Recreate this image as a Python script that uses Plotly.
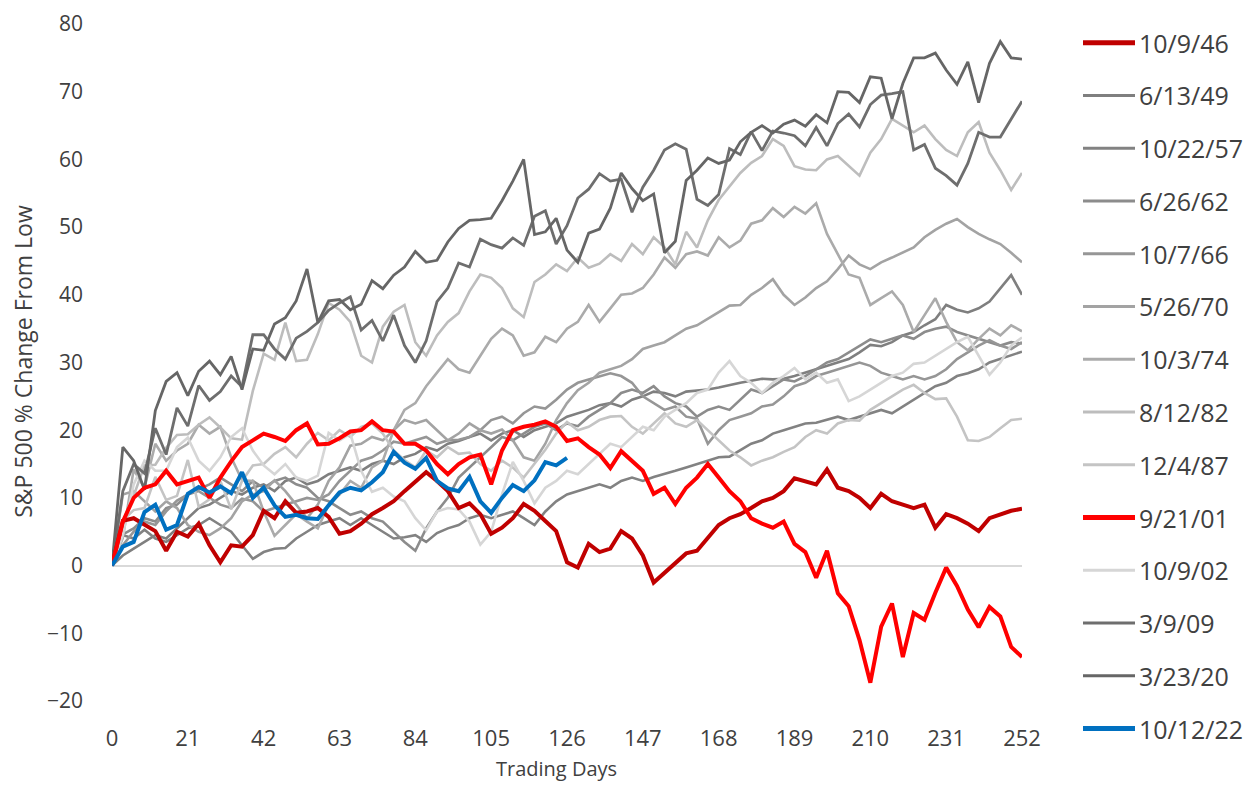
import plotly.graph_objects as go

# ---------------- data (every 3rd trading day) ----------------
days = list(range(0, 253, 3))

s_1946 = [0, 6.6, 7.0, 6.0, 5.1, 2.2, 5.0, 4.3, 6.2, 3.0, 0.5, 3.0, 2.8, 4.5, 8.1, 7.0, 9.5, 7.8, 8.0, 8.5,
          7.2, 4.7, 5.1, 6.2, 7.6, 8.5, 9.5, 11.0, 12.5, 13.8, 12.5, 11.0, 8.5, 9.2, 7.6, 4.7, 5.6, 7.0, 9.1, 8.1,
          6.6, 5.1, 0.5, -0.3, 3.2, 2.0, 2.5, 5.1, 4.0, 1.5, -2.5, -1.0, 0.5, 1.8, 2.2, 4.1, 6.0, 7.0, 7.6, 8.5,
          9.5, 10.0, 11.0, 12.9, 12.5, 12.0, 14.2, 11.5, 11.0, 10.0, 8.5, 10.6, 9.5, 9.0, 8.5, 9.0, 5.6, 7.6, 7.0, 6.2,
          5.1, 7.0, 7.6, 8.1, 8.4]

s_1949 = [0, 1.5, 2.5, 3.5, 4.5, 4.0, 5.5, 7.0, 8.5, 9.0, 10.0, 11.0, 10.5, 11.5, 12.0, 11.0, 12.5, 13.0, 12.0, 12.5,
          13.5, 14.0, 14.5, 14.0, 15.0, 15.5, 15.0, 16.0, 16.5, 17.5, 17.0, 18.0, 18.4, 19.0, 19.5, 18.5, 19.5, 20.0, 19.0, 20.0,
          20.5, 21.0, 22.0, 22.5, 23.0, 23.7, 24.0, 23.5, 24.5, 25.0, 25.7, 25.5, 25.0, 25.7, 25.8, 26.0, 26.3, 26.7, 27.0, 27.3,
          27.6, 27.5, 27.6, 28.0, 28.5, 29.0, 29.5, 30.0, 30.5, 31.5, 32.6, 32.4, 33.0, 34.0, 34.5, 35.5, 36.4, 38.5, 37.8, 37.4,
          38.0, 39.0, 41.0, 42.9, 40.0]

s_1957 = [0, 4.5, 4.0, 5.3, 4.0, 3.5, 4.5, 5.5, 6.0, 7.0, 6.0, 5.0, 3.0, 1.0, 2.0, 2.5, 2.6, 4.0, 5.0, 6.0,
          6.5, 7.0, 6.0, 7.0, 6.0, 5.0, 4.0, 4.2, 4.5, 3.5, 4.8, 5.5, 6.0, 7.0, 7.5, 7.0, 7.5, 8.0, 7.0, 6.0,
          8.0, 9.5, 10.5, 11.0, 11.4, 12.0, 11.5, 12.5, 13.0, 12.5, 13.1, 13.5, 14.0, 14.5, 15.0, 15.5, 16.0, 16.1, 17.0, 18.0,
          18.5, 19.5, 20.0, 20.5, 21.0, 21.1, 21.5, 22.0, 21.5, 22.0, 22.5, 23.0, 22.5, 23.5, 24.5, 25.5, 26.5, 27.0, 28.0, 28.4,
          29.0, 30.0, 30.5, 31.0, 31.6]

s_1962 = [0, 4.6, 5.5, 7.0, 6.5, 8.5, 9.0, 10.5, 11.3, 12.0, 13.0, 12.0, 11.0, 12.5, 11.5, 12.5, 13.0, 12.0, 11.5, 10.0,
          9.5, 8.5, 7.5, 8.0, 7.0, 6.5, 5.0, 3.5, 2.2, 5.5, 8.0, 10.0, 13.0, 14.5, 16.0, 17.5, 19.0, 18.5, 19.5, 20.5,
          21.0, 20.0, 21.0, 20.6, 22.0, 23.0, 24.0, 25.5, 26.0, 25.5, 26.5, 25.0, 24.0, 23.5, 22.0, 23.0, 23.5, 23.0, 24.5, 26.0,
          25.5, 26.5, 27.5, 27.2, 28.0, 29.0, 30.0, 30.5, 31.5, 32.5, 33.4, 33.0, 33.5, 34.0, 33.5, 34.5, 35.0, 35.3, 34.5, 34.0,
          33.5, 33.0, 32.5, 33.0, 32.8]

s_1966 = [0, 3.0, 5.0, 6.5, 6.0, 8.0, 9.6, 10.5, 11.0, 10.0, 9.0, 8.5, 9.9, 9.5, 8.0, 8.5, 9.0, 9.5, 10.0, 9.7,
          10.5, 12.5, 14.0, 15.5, 16.0, 17.0, 18.3, 18.0, 18.5, 19.0, 18.0, 18.5, 18.6, 19.0, 20.0, 21.5, 22.0, 21.0, 22.5, 23.5,
          23.2, 24.5, 26.0, 27.0, 27.5, 28.0, 28.4, 28.0, 27.0, 25.0, 24.0, 23.0, 23.5, 22.0, 21.7, 18.0, 20.0, 21.5, 22.0, 22.5,
          23.5, 23.8, 25.0, 26.5, 27.0, 28.0, 28.5, 29.0, 29.4, 30.0, 29.5, 28.5, 28.0, 27.5, 28.0, 27.5, 28.0, 29.0, 30.5, 31.5,
          32.5, 33.3, 32.5, 32.0, 33.0]

s_1970 = [0, 10.5, 11.0, 9.5, 8.0, 9.5, 8.5, 6.0, 5.0, 4.5, 5.5, 7.0, 9.5, 10.5, 11.0, 12.6, 11.0, 9.0, 7.0, 9.0,
          12.5, 14.5, 17.7, 18.0, 19.0, 18.5, 20.0, 21.5, 21.0, 21.5, 20.0, 18.5, 19.5, 21.0, 20.0, 19.5, 20.1, 18.5, 16.0, 15.5,
          18.0, 21.5, 24.0, 25.9, 27.0, 28.5, 29.0, 29.5, 30.5, 32.0, 32.5, 33.0, 34.0, 35.0, 35.5, 36.5, 37.5, 38.4, 38.5, 40.0,
          41.0, 42.3, 40.0, 38.5, 39.6, 41.0, 42.0, 43.8, 45.8, 44.5, 43.8, 44.8, 45.5, 46.2, 47.0, 48.5, 49.6, 50.5, 51.2, 50.0,
          49.0, 48.2, 47.5, 46.2, 44.8]

s_1974 = [0, 4.1, 14.2, 11.5, 18.0, 15.5, 17.0, 18.0, 20.8, 19.5, 20.5, 16.0, 12.6, 12.5, 8.0, 4.4, 6.0, 7.6, 6.5, 5.5,
          9.0, 10.5, 12.5, 11.5, 14.5, 15.5, 20.0, 23.0, 24.0, 26.5, 28.5, 30.5, 29.0, 28.5, 31.0, 33.5, 35.0, 34.0, 31.0, 31.5,
          33.8, 33.0, 35.0, 36.0, 38.5, 36.0, 38.0, 40.0, 40.2, 41.0, 43.0, 45.5, 44.0, 46.0, 46.4, 45.8, 48.5, 47.0, 48.0, 50.5,
          51.0, 52.8, 51.5, 53.0, 52.0, 53.5, 49.0, 46.0, 43.0, 42.5, 38.5, 39.5, 40.5, 38.5, 34.5, 37.0, 39.5, 36.0, 33.0, 31.8,
          33.5, 35.0, 34.0, 35.5, 34.6]

s_1982 = [0, 6.5, 10.3, 14.8, 14.9, 17.4, 19.3, 19.4, 20.8, 21.9, 20.4, 18.8, 18.6, 25.8, 31.3, 30.4, 35.9, 30.2, 30.4, 34.2,
          38.8, 37.8, 36.0, 31.0, 30.0, 35.3, 37.5, 38.5, 33.0, 31.0, 34.0, 36.0, 37.3, 40.5, 43.0, 42.5, 41.0, 38.0, 36.7, 41.9,
          43.0, 44.5, 43.5, 45.5, 44.0, 44.6, 46.0, 45.0, 47.5, 46.0, 48.5, 47.0, 44.5, 49.3, 47.0, 51.0, 54.0, 56.0, 58.0, 59.5,
          60.5, 63.0, 62.0, 59.0, 58.5, 58.4, 60.0, 60.5, 59.0, 57.6, 61.0, 63.0, 66.0, 65.0, 64.0, 65.0, 63.0, 61.4, 60.5, 64.0,
          65.5, 61.0, 58.4, 55.5, 58.0]

s_1987 = [0, 6.7, 8.2, 8.5, 13.1, 9.7, 10.3, 15.6, 8.7, 9.8, 12.5, 8.3, 12.5, 14.8, 15.0, 16.5, 17.5, 16.0, 18.0, 19.6,
          18.5, 20.0, 19.0, 20.5, 21.0, 19.5, 17.0, 15.6, 14.5, 17.0, 16.0, 17.5, 16.5, 16.7, 15.0, 14.0, 15.5, 14.5, 13.0, 15.0,
          17.1, 19.5, 21.2, 20.0, 20.5, 21.5, 22.0, 22.1, 20.5, 19.5, 21.0, 22.5, 21.0, 20.5, 21.5, 20.0, 18.5, 17.0, 16.0, 14.8,
          15.5, 16.0, 16.8, 17.5, 19.0, 20.0, 19.5, 21.0, 21.5, 21.4, 23.0, 24.0, 25.0, 26.0, 26.7, 25.5, 24.6, 24.7, 22.0, 18.5,
          18.4, 19.0, 20.3, 21.5, 21.7]

s_2001 = [0, 6.5, 10.0, 11.5, 12.0, 14.0, 12.0, 12.5, 13.0, 10.0, 13.0, 15.4, 17.5, 18.5, 19.5, 19.0, 18.4, 20.0, 21.0, 17.9,
          18.0, 18.8, 19.8, 20.0, 21.3, 20.0, 19.8, 18.0, 18.0, 17.0, 15.0, 13.5, 15.0, 16.0, 16.4, 12.0, 17.0, 20.0, 20.5, 20.8,
          21.3, 20.5, 18.4, 18.8, 17.5, 16.4, 14.4, 16.9, 15.5, 14.0, 10.6, 11.5, 9.1, 11.5, 13.0, 15.0, 13.0, 11.0, 9.5, 7.0,
          6.2, 5.6, 6.5, 3.2, 2.0, -1.8, 2.2, -4.1, -6.0, -11.0, -17.3, -9.0, -5.6, -13.5, -7.0, -8.0, -4.0, -0.3, -3.0, -6.5,
          -9.1, -6.1, -7.5, -12.0, -13.5]

s_2002 = [0, 4.5, 12.0, 15.5, 14.0, 14.0, 17.5, 18.9, 15.5, 14.0, 16.0, 19.0, 20.3, 17.0, 14.8, 13.5, 15.0, 13.0, 12.5, 13.3,
          19.6, 18.5, 19.5, 14.0, 10.9, 11.5, 10.2, 9.5, 7.0, 5.2, 8.0, 8.5, 8.3, 6.5, 3.1, 5.0, 10.5, 15.3, 12.5, 9.2,
          11.5, 12.5, 14.0, 13.5, 15.0, 16.5, 18.0, 17.5, 19.0, 20.5, 20.0, 22.0, 23.0, 24.0, 25.5, 26.0, 28.5, 30.2, 28.0, 27.0,
          25.5, 27.0, 28.0, 29.2, 27.5, 28.5, 27.0, 27.5, 24.3, 25.0, 26.0, 27.0, 28.0, 28.5, 29.8, 30.0, 31.0, 32.0, 33.0, 33.8,
          31.0, 28.2, 30.0, 32.5, 33.7]

s_2009 = [0, 11.0, 15.0, 13.6, 20.3, 16.4, 23.3, 20.6, 26.6, 24.4, 25.7, 28.0, 26.4, 34.1, 34.1, 32.0, 30.5, 33.6, 34.6, 35.9,
          37.7, 38.8, 39.7, 34.8, 36.2, 33.2, 37.0, 32.5, 30.0, 33.2, 39.0, 41.0, 44.7, 44.1, 48.2, 47.4, 46.9, 48.4, 47.3, 51.6,
          52.4, 47.5, 50.2, 54.3, 55.6, 57.9, 56.8, 57.1, 52.2, 55.9, 58.4, 61.4, 62.3, 61.5, 54.1, 53.2, 54.8, 61.6, 60.7, 64.1,
          61.3, 64.2, 63.9, 63.5, 62.0, 64.7, 62.0, 65.3, 66.7, 64.8, 68.1, 69.5, 69.7, 70.0, 61.4, 62.2, 58.7, 57.6, 56.2, 59.4,
          64.0, 63.3, 63.3, 66.0, 68.6]

s_2020 = [0, 17.5, 15.5, 11.2, 22.9, 27.2, 28.5, 25.1, 28.7, 30.2, 28.2, 30.9, 26.0, 32.0, 31.8, 35.7, 36.6, 39.1, 43.8, 35.9,
          39.1, 39.3, 37.8, 38.6, 42.1, 40.9, 42.9, 44.1, 46.4, 44.8, 45.1, 47.8, 49.8, 51.0, 51.1, 51.3, 53.9, 56.8, 60.0, 48.9,
          49.3, 51.3, 46.6, 44.8, 49.1, 49.7, 52.8, 58.0, 55.7, 53.9, 54.9, 46.2, 47.9, 56.9, 58.4, 60.2, 59.4, 59.9, 62.6, 64.0,
          65.0, 63.9, 65.2, 65.8, 64.9, 66.6, 65.4, 70.0, 69.9, 68.4, 72.2, 72.0, 66.0, 71.2, 75.0, 75.0, 75.7, 73.2, 71.1, 74.4,
          68.4, 74.2, 77.4, 75.0, 74.8]

s_2022 = [0, 2.8, 3.5, 7.9, 9.0, 5.3, 6.0, 10.6, 11.6, 10.8, 11.7, 10.7, 13.8, 10.0, 11.5, 8.9, 7.2, 7.5, 7.0, 6.9,
          8.9, 10.8, 11.5, 11.1, 12.3, 13.8, 16.8, 15.2, 14.3, 15.9, 12.5, 11.4, 11.0, 13.1, 9.5, 7.8, 10.0, 11.9, 11.0, 12.6,
          15.3, 14.8, 15.9]

names = ["10/9/46", "6/13/49", "10/22/57", "6/26/62", "10/7/66", "5/26/70", "10/3/74",
         "8/12/82", "12/4/87", "9/21/01", "10/9/02", "3/9/09", "3/23/20", "10/12/22"]
series = [s_1946, s_1949, s_1957, s_1962, s_1966, s_1970, s_1974,
          s_1982, s_1987, s_2001, s_2002, s_2009, s_2020, s_2022]
colors = ["#C00000", "#7F7F7F", "#828282", "#8C8C8C", "#969696", "#A3A3A3", "#ABABAB",
          "#BDBDBD", "#C4C4C4", "#FF0000", "#D6D6D6", "#6E6E6E", "#666666", "#0070C0"]
widths = [4, 2.6, 2.6, 2.6, 2.6, 2.6, 2.6, 2.6, 2.6, 4, 2.6, 2.8, 2.8, 4]
legend_widths = [5, 3, 3, 3, 3, 3, 3, 3, 3, 5, 3, 3, 3, 5]

x_ticks = [0, 21, 42, 63, 84, 105, 126, 147, 168, 189, 210, 231, 252]
y_ticks = [-20, -10, 0, 10, 20, 30, 40, 50, 60, 70, 80]

for s in series[:-1]:
    assert len(s) == len(days), len(s)

# ---------------- figure ----------------
# the page body has an 8px margin, so the figure is placed at (8, 8) in the window
OFF = 8
W, H = 1258 - 2 * OFF, 791 - 2 * OFF
L, T = 112 - OFF, 24 - OFF
PW, PH = 910, 677.5
R, B = W - L - PW, H - T - PH

fig = go.Figure()
# gray lines first, then the highlighted series on top
draw_order = [1, 2, 3, 4, 5, 6, 7, 8, 10, 11, 12, 0, 9, 13]
for i in draw_order:
    ys = series[i]
    fig.add_trace(go.Scatter(
        x=days[:len(ys)], y=ys, mode="lines", name=names[i],
        line=dict(color=colors[i], width=widths[i]),
        showlegend=False, hoverinfo="skip"))

TXT = "#404040"
FONT = "Open Sans"

fig.update_layout(
    width=W, height=H,
    margin=dict(l=L, r=R, t=T, b=B, pad=0, autoexpand=False),
    paper_bgcolor="white", plot_bgcolor="white",
    font=dict(family=FONT, color=TXT),
    xaxis=dict(range=[0, 252], tickvals=x_ticks, showgrid=False, zeroline=False,
               showline=False, ticks="", tickfont=dict(size=22, color=TXT),
               ticklabelstandoff=22, automargin=False, ticklabeloverflow="allow"),
    yaxis=dict(range=[-20, 80], tickvals=y_ticks, showgrid=False, zeroline=True,
               zerolinecolor="#D9D9D9", zerolinewidth=1.5, showline=False, ticks="",
               tickfont=dict(size=21, color=TXT), ticklabelstandoff=28, automargin=False,
               ticklabeloverflow="allow"),
)

def px(xp):
    # window pixel x -> paper coordinate
    return (xp - OFF - L) / PW

def py(yp):
    # window pixel y -> paper coordinate
    return (T + PH - (yp - OFF)) / PH

annotations = [
    dict(text="S&P 500 % Change From Low", x=px(23), y=py(362), xref="paper", yref="paper",
         textangle=-90, showarrow=False, font=dict(size=23, color=TXT, family=FONT),
         xanchor="center", yanchor="middle"),
    dict(text="Trading Days", x=px(556), y=py(769), xref="paper", yref="paper",
         showarrow=False, font=dict(size=20, color=TXT, family=FONT),
         xanchor="center", yanchor="middle"),
]
shapes = []
for k, name in enumerate(names):
    yk = 42.7 + 52.8 * k
    shapes.append(dict(type="line", xref="paper", yref="paper",
                       x0=px(1083), x1=px(1135), y0=py(yk), y1=py(yk),
                       line=dict(color=colors[k], width=legend_widths[k])))
    annotations.append(dict(text=name, x=px(1137), y=py(yk), xref="paper", yref="paper",
                            showarrow=False, xanchor="left", yanchor="middle",
                            font=dict(size=25, color=TXT, family=FONT)))

fig.update_layout(annotations=annotations, shapes=shapes)
fig.write_html("out.html")
